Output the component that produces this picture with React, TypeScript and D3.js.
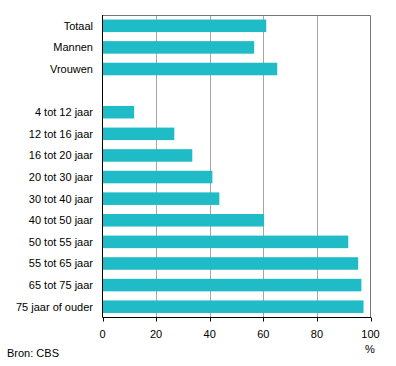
import React, { useRef, useEffect } from "react";
import * as d3 from "d3";

const categories = [
  "Totaal",
  "Mannen",
  "Vrouwen",
  "",
  "4 tot 12 jaar",
  "12 tot 16 jaar",
  "16 tot 20 jaar",
  "20 tot 30 jaar",
  "30 tot 40 jaar",
  "40 tot 50 jaar",
  "50 tot 55 jaar",
  "55 tot 65 jaar",
  "65 tot 75 jaar",
  "75 jaar of ouder",
];
const values = [61.1, 56.6, 65.2, null, 11.8, 26.8, 33.5, 41, 43.6, 60.3, 91.7, 95.4, 96.6, 97.4];
const xTicks = [0, 20, 40, 60, 80, 100];

export default function App() {
  const svgRef = useRef<SVGSVGElement>(null);

  useEffect(() => {
    const svg = d3.select(svgRef.current);
    svg.selectAll("*").remove();
    const width = 396,
      height = 366;
    const left = 102.5,
      right = 370.5,
      top = 15,
      bottom = 317.5;
    const font = "Arial, 'Liberation Sans', sans-serif";

    const x = d3.scaleLinear().domain([0, 100]).range([left, right]);
    const y = d3
      .scaleBand()
      .domain(categories.map((c, i) => c || "gap" + i))
      .range([top, bottom])
      .paddingInner(0.42)
      .paddingOuter(0.21);

    // gridlines
    svg.append("g")
      .selectAll("line")
      .data(xTicks.slice(1, -1))
      .join("line")
      .attr("x1", (d) => Math.round(x(d)) + 0.5)
      .attr("x2", (d) => Math.round(x(d)) + 0.5)
      .attr("y1", top)
      .attr("y2", bottom)
      .attr("stroke", "#a6a6a6");

    // frame top/right
    svg.append("path")
      .attr("d", `M${left},${top + 0.5}H${right}V${bottom}`)
      .attr("fill", "none")
      .attr("stroke", "#777");

    // bars
    svg.append("g")
      .selectAll("rect")
      .data(categories.map((c, i) => ({ key: c || "gap" + i, v: values[i] })).filter((d) => d.v != null))
      .join("rect")
      .attr("x", left)
      .attr("y", (d) => y(d.key)!)
      .attr("width", (d) => x(d.v as number) - left)
      .attr("height", y.bandwidth())
      .attr("fill", "#1fbbc6");

    // category labels
    svg.append("g")
      .selectAll("text")
      .data(categories.filter((c) => c))
      .join("text")
      .attr("x", 93)
      .attr("y", (d) => y(d)! + y.bandwidth() / 2)
      .attr("dy", "0.35em")
      .attr("text-anchor", "end")
      .attr("font-family", font)
      .attr("font-size", 11)
      .text((d) => d);

    // axes lines
    svg.append("line")
      .attr("x1", left).attr("x2", left)
      .attr("y1", top).attr("y2", bottom)
      .attr("stroke", "#000");
    svg.append("line")
      .attr("x1", left).attr("x2", right + 0.5)
      .attr("y1", bottom).attr("y2", bottom)
      .attr("stroke", "#000");

    const tg = svg.append("g").selectAll("g").data(xTicks).join("g");
    tg.append("line")
      .attr("x1", (d) => Math.round(x(d)) + 0.5)
      .attr("x2", (d) => Math.round(x(d)) + 0.5)
      .attr("y1", bottom)
      .attr("y2", bottom + 4)
      .attr("stroke", "#000");
    tg.append("text")
      .attr("x", (d) => x(d))
      .attr("y", 338)
      .attr("text-anchor", "middle")
      .attr("font-family", font)
      .attr("font-size", 11)
      .text((d) => d);

    svg.append("text")
      .attr("x", 370)
      .attr("y", 353)
      .attr("text-anchor", "middle")
      .attr("font-family", font)
      .attr("font-size", 11)
      .text("%");

    svg.append("text")
      .attr("x", 7)
      .attr("y", 357)
      .attr("font-family", font)
      .attr("font-size", 11)
      .text("Bron: CBS");

    svg.attr("width", width).attr("height", height);
  }, []);

  return (
    <svg
      ref={svgRef}
      width={396}
      height={366}
      style={{ position: "absolute", left: 0, top: 0, background: "#fff" }}
    ></svg>
  );
}
